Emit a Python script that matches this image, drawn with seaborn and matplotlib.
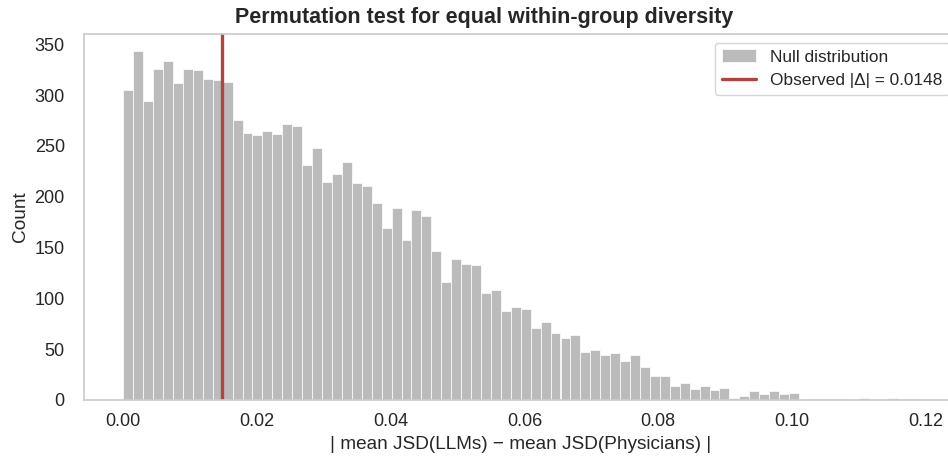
import matplotlib
matplotlib.use("Agg")
import matplotlib.pyplot as plt
import numpy as np
import pandas as pd
import seaborn as sns

# permutation null: 80 bins of |delta mean JSD|, 10000 permutations
bin_lo = 0.0
bin_hi = 0.1189
n_bins = 80
counts = [
    305, 343, 294, 326, 334, 312, 326, 325, 316, 315, 313, 276, 263, 261, 265, 262,
    272, 270, 231, 248, 215, 222, 234, 214, 211, 194, 169, 189, 157, 187, 181, 147,
    116, 139, 134, 133, 105, 108, 88, 92, 90, 71, 77, 66, 61, 64, 47, 49,
    44, 46, 38, 44, 32, 24, 24, 14, 17, 11, 14, 10, 12, 2, 4, 9,
    6, 9, 6, 7, 0, 1, 1, 1, 1, 0, 2, 0, 0, 2, 0, 1,
]
observed = 0.0148

sns.set_theme(style="whitegrid")
plt.rcParams["font.family"] = ["Liberation Sans", "DejaVu Sans"]
plt.rcParams["axes.grid"] = False

edges = np.linspace(bin_lo, bin_hi, n_bins + 1)
df = pd.DataFrame({"delta": (edges[:-1] + edges[1:]) / 2, "n": counts})

fig = plt.figure(figsize=(9.48, 4.63), dpi=100)
# the right edge of the axes runs just past the canvas, as in the source image
ax = fig.add_axes([83.5 / 948, 63 / 463, (958 - 83.5) / 948, 366 / 463])

sns.histplot(data=df, x="delta", weights="n", bins=n_bins, binrange=(bin_lo, bin_hi),
             color="#bbbbbb", alpha=1, edgecolor="white", linewidth=0.5,
             label="Null distribution", ax=ax)
ax.axvline(observed, color="#b2443f", linewidth=2.4,
           label=f"Observed |\u0394| = {observed:.4f}")

rng = bin_hi - bin_lo
ax.set_xlim(bin_lo - 0.05 * rng, bin_hi + 0.05 * rng)
ax.set_ylim(0, max(counts) * 1.05)
ax.set_xticks([0.0, 0.02, 0.04, 0.06, 0.08, 0.10, 0.12])
ax.set_yticks(range(0, 351, 50))
ax.tick_params(labelsize=13)
ax.tick_params(axis="y", pad=7.5)
ax.set_xlabel("| mean JSD(LLMs) \u2212 mean JSD(Physicians) |", fontsize=13.7)
ax.set_ylabel("Count", fontsize=13.7)
ax.set_title("Permutation test for equal within-group diversity",
             fontsize=15.5, fontweight="bold", pad=8, x=(484 - 83.5) / 874.5)

handles, labels = ax.get_legend_handles_labels()
order = [labels.index("Null distribution"), 1 - labels.index("Null distribution")]
ax.legend([handles[i] for i in order], [labels[i] for i in order],
          loc="upper right", fontsize=12.4, frameon=True)

fig.savefig("out.png", dpi=100)
plt.close(fig)
print("Done: out.png")
